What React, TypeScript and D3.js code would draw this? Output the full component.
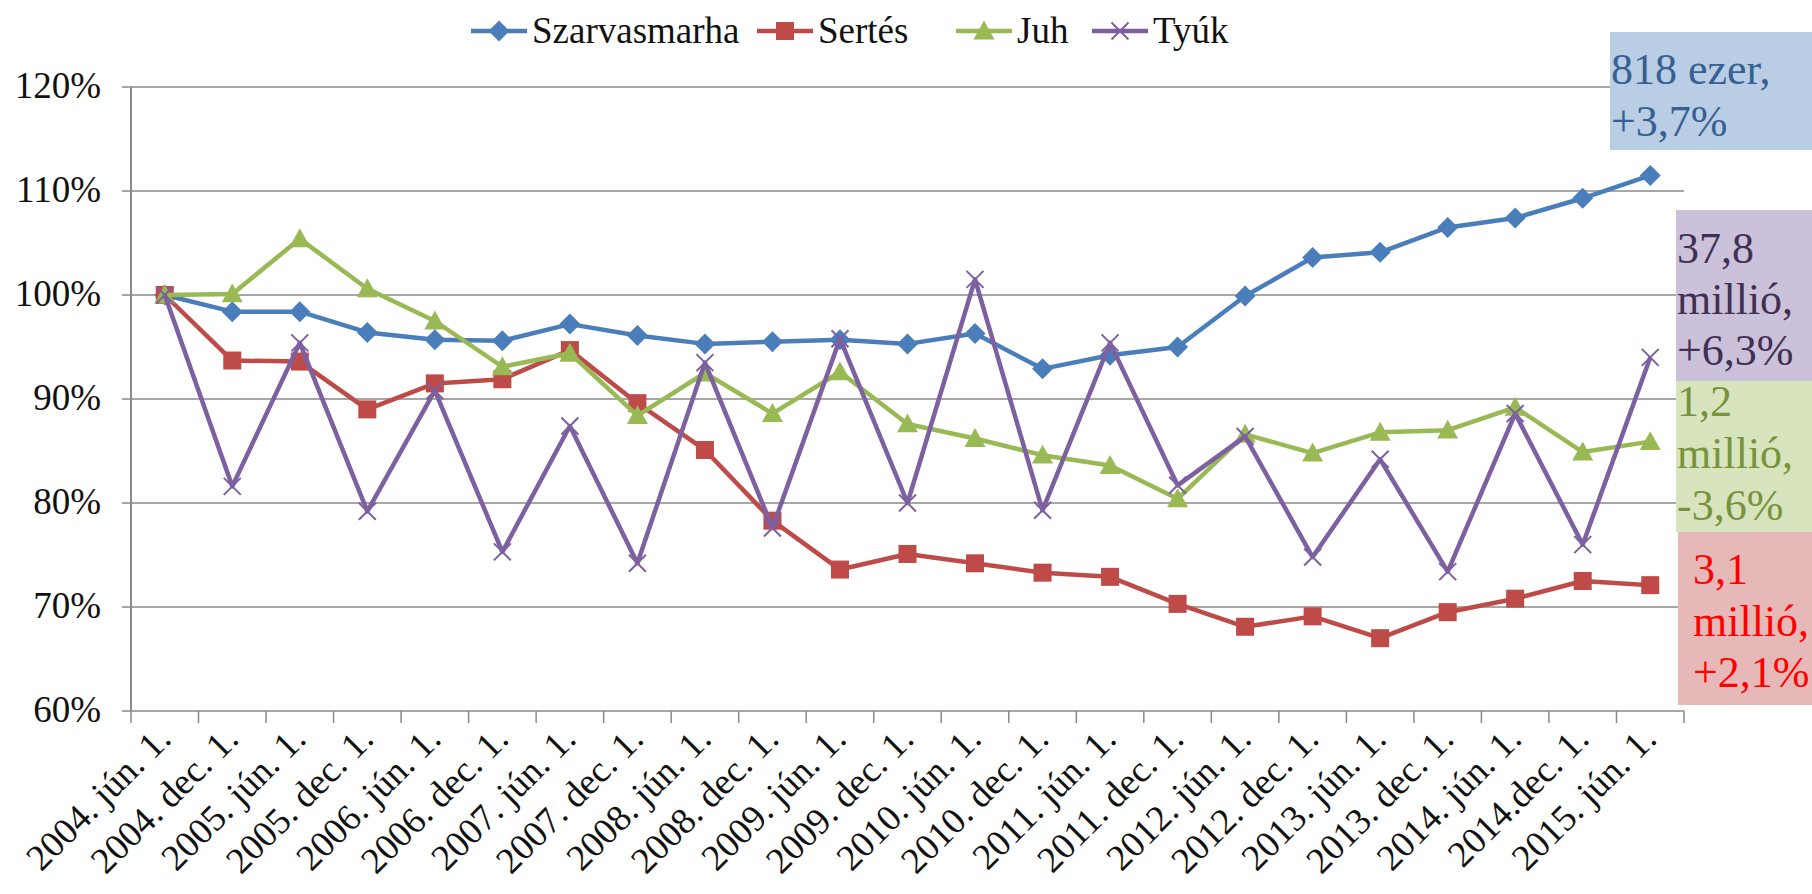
import React from "react";
import * as d3 from "d3";

const categories = [
  "2004. jún. 1.", "2004. dec. 1.", "2005. jún. 1.", "2005. dec. 1.", "2006. jún. 1.", "2006. dec. 1.",
  "2007. jún. 1.", "2007. dec. 1.", "2008. jún. 1.", "2008. dec. 1.", "2009. jún. 1.", "2009. dec. 1.",
  "2010. jún. 1.", "2010. dec. 1.", "2011. jún. 1.", "2011. dec. 1.", "2012. jún. 1.", "2012. dec. 1.",
  "2013. jún. 1.", "2013. dec. 1.", "2014. jún. 1.", "2014.dec. 1.", "2015. jún. 1.",
];

const szarvasmarha = [100, 98.4, 98.4, 96.4, 95.7, 95.6, 97.2, 96.1, 95.3, 95.5, 95.7, 95.3, 96.3, 92.9, 94.2, 95.0, 99.9, 103.6, 104.1, 106.5, 107.4, 109.3, 111.5];
const sertes = [100, 93.7, 93.6, 89.0, 91.5, 91.9, 94.7, 89.6, 85.1, 78.3, 73.6, 75.1, 74.2, 73.3, 72.9, 70.3, 68.1, 69.1, 67.0, 69.5, 70.8, 72.5, 72.1];
const juh = [100, 100.1, 105.4, 100.6, 97.5, 93.1, 94.4, 88.4, 92.5, 88.6, 92.6, 87.6, 86.2, 84.6, 83.6, 80.4, 86.6, 84.8, 86.8, 87.0, 89.2, 84.9, 85.9];
const tyuk = [100, 81.6, 95.4, 79.2, 90.8, 75.3, 87.4, 74.2, 93.5, 77.6, 95.8, 80.0, 101.5, 79.3, 95.4, 81.7, 86.4, 74.8, 84.2, 73.4, 88.6, 76.0, 94.0];

const yTicks = [60, 70, 80, 90, 100, 110, 120];

const seriesNames = ["Szarvasmarha", "Sertés", "Juh", "Tyúk"];
const seriesColors = ["#4a7ebb", "#be4b48", "#98b954", "#7d60a0"];
const seriesMarkers = ["diamond", "square", "triangle", "x"];

const annotations = [
  { lines: ["818 ezer,", "+3,7%"], fill: "#b9cde5", color: "#376092" },
  { lines: ["37,8", "millió,", "+6,3%"], fill: "#ccc1da", color: "#403152" },
  { lines: ["1,2", "millió,", "-3,6%"], fill: "#d7e4bd", color: "#77933c" },
  { lines: ["3,1", "millió,", "+2,1%"], fill: "#e6b9b8", color: "#ff0000" },
];

const fontNames = ["Liberation Serif", "Times New Roman"];

const W = 1812;
const H = 894;
const left = 131;
const right = 1684;
const topY = 87;
const bottom = 711;

function Marker({ type, x, y, color }: { type: string; x: number; y: number; color: string }) {
  if (type === "diamond") {
    const r = 10.5;
    return <path d={`M${x},${y - r}L${x + r},${y}L${x},${y + r}L${x - r},${y}Z`} fill={color} />;
  }
  if (type === "square") {
    const s = 9;
    return <rect x={x - s} y={y - s} width={2 * s} height={2 * s} fill={color} />;
  }
  if (type === "triangle") {
    const r = 10.5;
    return <path d={`M${x},${y - r}L${x + r},${y + r * 0.8}L${x - r},${y + r * 0.8}Z`} fill={color} />;
  }
  const r = 8.5;
  return (
    <path d={`M${x - r},${y - r}L${x + r},${y + r}M${x - r},${y + r}L${x + r},${y - r}`} stroke={color} strokeWidth={2} fill="none" />
  );
}

export default function App() {
  const x = d3.scaleBand<string>().domain(categories).range([left, right]).padding(0);
  const y = d3.scaleLinear().domain([60, 120]).range([bottom, topY]);
  const cx = (c: string) => (x(c) as number) + x.bandwidth() / 2;
  const allSeries = [szarvasmarha, sertes, juh, tyuk];

  const line = d3
    .line<number>()
    .x((_, i) => cx(categories[i]))
    .y((d) => y(d));

  const boxes = [
    { x: 1610, y: 32, w: 202, h: 118, tx: 1611, baselines: [84, 136] },
    { x: 1676, y: 210, w: 136, h: 171, tx: 1677, baselines: [263, 314, 365] },
    { x: 1676, y: 381, w: 136, h: 151, tx: 1677, baselines: [416, 468, 520] },
    { x: 1678, y: 532, w: 134, h: 173, tx: 1693, baselines: [584, 636, 687] },
  ];

  const legendX = [471, 757, 956, 1092];

  return (
    <svg width={W} height={H} style={{ position: "absolute", left: 0, top: 0, background: "#fff" }}>
      <rect x={0} y={0} width={W} height={H} fill="#fff" />
      {yTicks.map((t) => (
        <g key={t}>
          <line x1={left - 9} x2={right} y1={y(t)} y2={y(t)} stroke="#8a8a8a" strokeWidth={1.5} />
          <text x={left - 30} y={y(t) + 11} textAnchor="end" style={{ fontFamily: fontNames[0], fontSize: 37 }} fill="#111">
            {t}%
          </text>
        </g>
      ))}
      <line x1={left} x2={left} y1={topY} y2={bottom} stroke="#8a8a8a" strokeWidth={2} />
      {categories.concat([""]).map((c, i) => {
        const xx = left + i * x.bandwidth();
        return <line key={i} x1={xx} x2={xx} y1={bottom} y2={bottom + 12} stroke="#8a8a8a" strokeWidth={1.5} />;
      })}
      {categories.map((c) => (
        <text
          key={c}
          transform={`translate(${cx(c) + 8},${bottom + 30}) rotate(-45)`}
          textAnchor="end"
          style={{ fontFamily: fontNames[0], fontSize: 37 }}
          fill="#111"
        >
          {c}
        </text>
      ))}
      {allSeries.map((s, si) => (
        <g key={"s" + si}>
          <path d={line(s) as string} fill="none" stroke={seriesColors[si]} strokeWidth={4.5} strokeLinejoin="round" />
          {s.map((v, i) => (
            <Marker key={i} type={seriesMarkers[si]} x={cx(categories[i])} y={y(v)} color={seriesColors[si]} />
          ))}
        </g>
      ))}
      {seriesNames.map((n, i) => (
        <g key={n}>
          <line x1={legendX[i]} x2={legendX[i] + 56} y1={31} y2={31} stroke={seriesColors[i]} strokeWidth={4.5} />
          <Marker type={seriesMarkers[i]} x={legendX[i] + 28} y={31} color={seriesColors[i]} />
          <text x={legendX[i] + 61} y={43} style={{ fontFamily: fontNames[0], fontSize: 37 }} fill="#111">
            {n}
          </text>
        </g>
      ))}
      {annotations.map((a, i) => {
        const b = boxes[i];
        return (
          <g key={i}>
            <rect x={b.x} y={b.y} width={b.w} height={b.h} fill={a.fill} />
            {a.lines.map((l, j) => (
              <text key={j} x={b.tx} y={b.baselines[j]} style={{ fontFamily: fontNames[0], fontSize: 44 }} fill={a.color}>
                {l}
              </text>
            ))}
          </g>
        );
      })}
    </svg>
  );
}
